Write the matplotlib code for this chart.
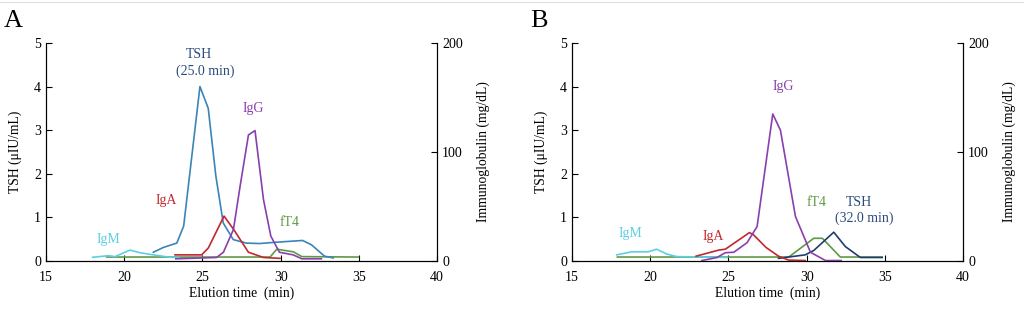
import matplotlib
matplotlib.use("Agg")
import matplotlib.pyplot as plt
from matplotlib.lines import Line2D

plt.rcParams["font.family"] = ["Liberation Serif", "DejaVu Serif"]

# ---- panel A data (x: elution time, min) ----
a_tsh_x = [21.86, 22.5, 23.36, 23.8, 24.84, 25.37, 25.86, 26.33, 26.97, 27.8, 28.67, 29.7, 31.4, 31.97, 32.8, 33.36]
a_tsh_y = [0.2, 0.31, 0.41, 0.8, 4.0, 3.5, 1.94, 0.87, 0.49, 0.41, 0.40, 0.43, 0.47, 0.37, 0.11, 0.07]
a_fT4_x = [18.88, 29.32, 29.75, 30.81, 31.35, 34.97]
a_fT4_y = [0.09, 0.09, 0.27, 0.21, 0.10, 0.09]
# immunoglobulins in mg/dL (right axis)
a_igm_x = [17.98, 18.98, 19.41, 20.37, 21.0, 21.86, 22.93, 23.5]
a_igm_y = [3.4, 4.8, 4.0, 10.0, 7.6, 5.6, 3.4, 3.2]
a_iga_x = [23.25, 24.95, 25.38, 26.38, 26.98, 27.94, 28.9, 29.96]
a_iga_y = [5.6, 5.6, 12.0, 41.2, 29.2, 8.0, 3.2, 2.4]
a_igg_x = [23.3, 25.9, 26.34, 26.98, 27.4, 27.94, 28.36, 28.9, 29.37, 29.92, 30.8, 31.35, 32.6]
a_igg_y = [2.0, 3.2, 8.0, 28.8, 68.0, 115.6, 119.6, 56.4, 22.8, 8.0, 5.6, 2.0, 2.0]

# ---- panel B data ----
b_tsh_x = [28.2, 29.9, 30.45, 31.73, 32.47, 33.43, 34.82]
b_tsh_y = [0.06, 0.14, 0.24, 0.66, 0.33, 0.08, 0.08]
b_fT4_x = [17.9, 28.85, 30.45, 31.0, 32.15, 34.82]
b_fT4_y = [0.09, 0.09, 0.52, 0.52, 0.09, 0.09]
b_igm_x = [17.86, 18.8, 19.87, 20.4, 21.05, 21.7, 24.9]
b_igm_y = [5.6, 8.4, 8.4, 10.8, 6.4, 4.0, 3.2]
b_iga_x = [22.93, 24.38, 24.8, 26.34, 26.6, 27.4, 28.2, 28.85, 29.9]
b_iga_y = [4.4, 10.0, 10.8, 26.0, 24.0, 12.4, 4.4, 0.8, 0.4]
b_igg_x = [23.3, 24.27, 24.8, 25.34, 26.19, 26.83, 27.83, 28.32, 29.28, 30.24, 31.2, 32.2]
b_igg_y = [0.4, 3.2, 7.6, 8.0, 16.8, 31.6, 134.8, 120.0, 40.8, 8.0, 0.4, 0.4]

c_tsh_a = "#3a84b8"
c_tsh_b = "#1f3d6e"
c_label_tsh = "#2a4a7c"
c_igm = "#5dcfe4"
c_iga = "#c0282e"
c_igg = "#8a3fae"
c_fT4 = "#5e9a46"

fig = plt.figure(figsize=(10.24, 3.25), dpi=100)
# thin grey rule along the top edge
fig.add_artist(Line2D([0, 1], [0.994, 0.994], color="#dddddd", lw=0.8,
                      transform=fig.transFigure))


def panel(left, letter, tsh, fT4, igm, iga, igg, tsh_color, labels):
    ax = fig.add_axes([left, 0.197, 0.382, 0.671])
    ax2 = ax.twinx()
    lw = 1.2
    ax2.plot(igm[0], igm[1], color=c_igm, lw=lw)
    ax.plot(fT4[0], fT4[1], color=c_fT4, lw=lw)
    ax2.plot(iga[0], iga[1], color=c_iga, lw=lw)
    ax2.plot(igg[0], igg[1], color=c_igg, lw=lw)
    ax.plot(tsh[0], tsh[1], color=tsh_color, lw=lw)

    ax.set_xlim(15, 40)
    ax.set_ylim(0, 5)
    ax2.set_ylim(0, 200)
    ax.set_xticks([15, 20, 25, 30, 35, 40])
    ax.set_yticks([0, 1, 2, 3, 4, 5])
    ax2.set_yticks([0, 100, 200])
    for a in (ax, ax2):
        a.spines["top"].set_visible(False)
        a.tick_params(direction="in", length=4, labelsize=10, width=0.8)
    ax.tick_params(axis="x", pad=7)
    ax.set_xlabel("Elution time  (min)", fontsize=9.8, labelpad=2)
    ax.set_ylabel("TSH (\u03bcIU/mL)", fontsize=9.8, labelpad=9)
    ax2.set_ylabel("Immunoglobulin (mg/dL)", fontsize=9.8, labelpad=10)

    for txt, x, y, col in labels:
        ax.text(x, y, txt, color=col, fontsize=10, ha="center", va="center")
    fig.text(left - 0.032, 0.935, letter, fontsize=19, ha="center", va="center")


panel(0.0449, "A",
      (a_tsh_x, a_tsh_y), (a_fT4_x, a_fT4_y), (a_igm_x, a_igm_y),
      (a_iga_x, a_iga_y), (a_igg_x, a_igg_y), c_tsh_a,
      [("TSH", 24.8, 4.74, c_label_tsh),
       ("(25.0 min)", 25.17, 4.36, c_label_tsh),
       ("IgG", 28.26, 3.5, c_igg),
       ("IgA", 22.7, 1.38, c_iga),
       ("fT4", 30.6, 0.88, c_fT4),
       ("IgM", 18.98, 0.5, c_igm)])

panel(0.5586, "B",
      (b_tsh_x, b_tsh_y), (b_fT4_x, b_fT4_y), (b_igm_x, b_igm_y),
      (b_iga_x, b_iga_y), (b_igg_x, b_igg_y), c_tsh_b,
      [("IgG", 28.48, 3.99, c_igg),
       ("fT4", 30.6, 1.35, c_fT4),
       ("TSH", 33.35, 1.35, c_label_tsh),
       ("(32.0 min)", 33.7, 0.99, c_label_tsh),
       ("IgA", 24.0, 0.57, c_iga),
       ("IgM", 18.73, 0.64, c_igm)])

fig.savefig("out.png", dpi=100)
